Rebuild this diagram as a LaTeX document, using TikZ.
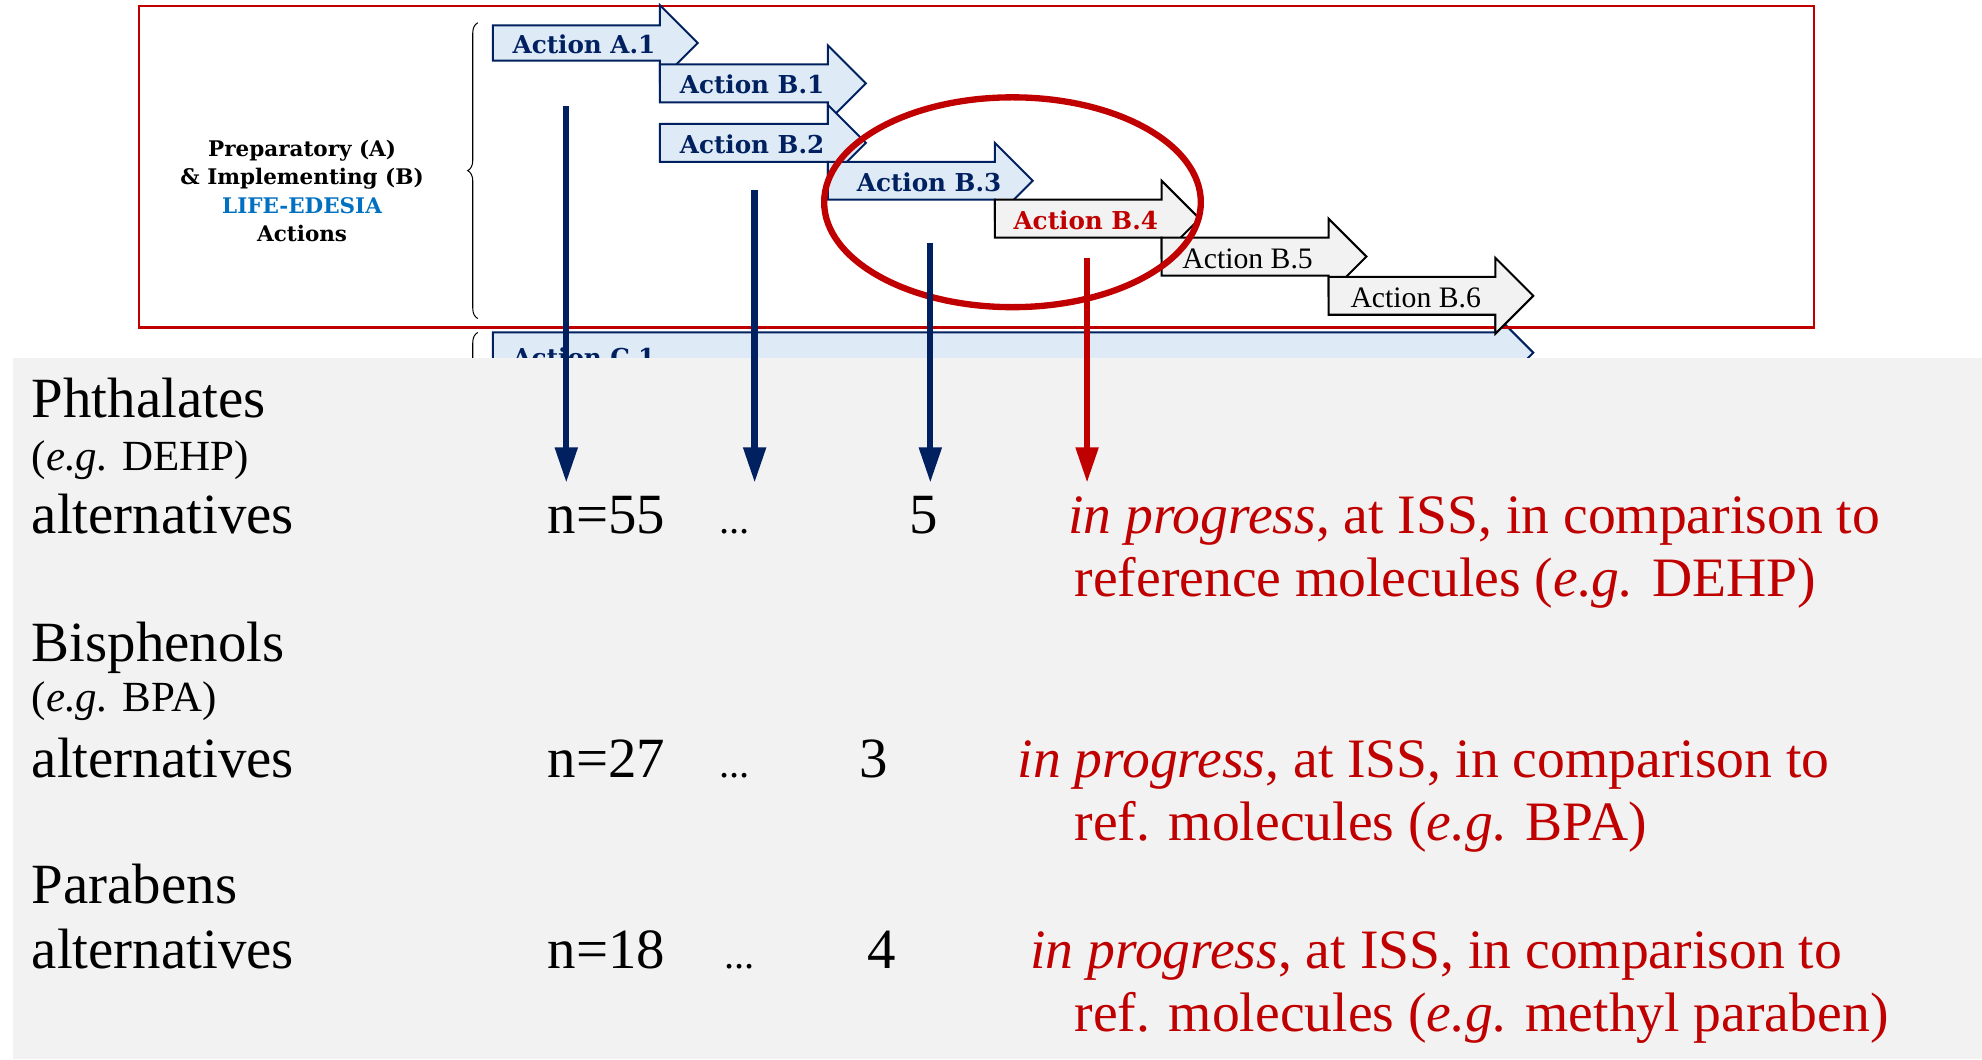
\documentclass[tikz,border=0pt]{standalone}
\usepackage{fontspec}
\setmainfont{Liberation Serif}
\newfontfamily\actfont{DejaVu Serif}
\usetikzlibrary{arrows.meta,decorations.pathreplacing}
\definecolor{navy}{HTML}{002060}
\definecolor{darkred}{HTML}{C00000}
\definecolor{lblue}{HTML}{DEEBF7}
\definecolor{lgray}{HTML}{F2F2F2}
\definecolor{edesia}{HTML}{0070C0}
% block arrow: style, x left, y centre, body length, body half height
\newcommand\blkarrow[5]{%
  \draw[#1] (#2,#3-#5) -- ++(#4,0) -- ++(0,#5-30) -- ++(30,30) -- ++(-30,30) -- ++(0,#5-30) -- ++(-#4,0) -- cycle;}
\tikzset{
  blockA/.style={fill=lblue, draw=navy, line width=1.6pt, line join=miter},
  blockB/.style={fill=lgray, draw=black, line width=1.6pt, line join=miter},
  actlbl/.style={font=\actfont\bfseries\fontsize{19.5}{22}\selectfont, text=navy, inner sep=0pt},
  actplain/.style={font=\fontsize{23.5}{26}\selectfont, text=black, inner sep=0pt},
  lefttxt/.style={font=\actfont\bfseries\fontsize{17}{22.5}\selectfont, align=center, inner sep=0pt},
  bigtxt/.style={font=\fontsize{45}{50}\selectfont, anchor=base west, inner sep=0pt},
  subtxt/.style={font=\fontsize{34}{38}\selectfont, anchor=base west, inner sep=0pt},
  redtxt/.style={bigtxt, font=\fontsize{44}{50}\selectfont, text=darkred},
  dotstxt/.style={font=\fontsize{32}{34}\selectfont, anchor=base west, inner sep=0pt},
  brc/.style={decorate, decoration={brace, amplitude=8pt}, line width=0.8pt},
  vline/.style={line width=5pt, -{Triangle[width=17pt,length=28pt]}},
}
\begin{document}
\begin{tikzpicture}[x=1pt,y=-1pt]
\useasboundingbox (0,0) rectangle (1568,838);
% Action C.1 (mostly hidden)
\blkarrow{blockA}{390}{279}{793}{16}
\node[actlbl] (lC1) at (462,283) {Action C.1};
% red frame
\draw[darkred, line width=1.8pt] (110,5) rectangle (1435,259);
% braces
\draw[brc] (378,252) -- (378,18);
\draw[brc] (378,520) -- (378,263);
% block arrows
\blkarrow{blockA}{390}{34}{132}{14}
\node[actlbl] (lA1) at (462,35) {Action A.1};
\blkarrow{blockA}{522}{66}{133}{15}
\node[actlbl] (lB1) at (595,67) {Action B.1};
\blkarrow{blockA}{522}{113}{133}{15}
\node[actlbl] (lB2) at (595,114) {Action B.2};
\blkarrow{blockA}{655}{143}{132}{15}
\node[actlbl] (lB3) at (735,144) {Action B.3};
\blkarrow{blockB}{787}{173}{132}{15}
\node[actlbl, text=darkred] (lB4) at (859,174) {Action B.4};
\blkarrow{blockB}{919}{203}{132}{15}
\node[actplain] (lB5) at (987,205) {Action B.5};
\blkarrow{blockB}{1051}{234}{132}{15}
\node[actplain] (lB6) at (1120,236) {Action B.6};
% left label
\node[lefttxt] (prep) at (239,151) {Preparatory (A)\\ \& Implementing (B)\\ \textcolor{edesia}{LIFE-EDESIA}\\ Actions};
% ellipse
\draw[darkred, line width=5pt] (801,160) ellipse [x radius=149pt, y radius=83pt];
% grey panel
\fill[lgray] (10,283) rectangle (1568,838);
% texts
\node[bigtxt] (phth) at (25,330) {Phthalates};
\node[subtxt] (phthEg) at (25,372) {(\textit{e.g.} DEHP)};
\node[bigtxt] (alt1) at (25,422) {alternatives};
\node[bigtxt] (n55) at (433,422) {n=55};
\node[dotstxt] (dots1) at (569,422) {...};
\node[bigtxt] (five) at (719,422) {5};
\node[redtxt] (red1a) at (845,422) {\textit{in progress}, at ISS, in comparison to};
\node[redtxt] (red1b) at (850,472) {reference molecules (\textit{e.g.} DEHP)};
\node[bigtxt] (bisph) at (25,523) {Bisphenols};
\node[subtxt] (bpaEg) at (25,563) {(\textit{e.g.} BPA)};
\node[bigtxt] (alt2) at (25,615) {alternatives};
\node[bigtxt] (n27) at (433,615) {n=27};
\node[dotstxt] (dots2) at (569,615) {...};
\node[bigtxt] (three) at (680,615) {3};
\node[redtxt] (red2a) at (805,615) {\textit{in progress}, at ISS, in comparison to};
\node[redtxt] (red2b) at (850,665) {ref. molecules (\textit{e.g.} BPA)};
\node[bigtxt] (parab) at (25,715) {Parabens};
\node[bigtxt] (alt3) at (25,766) {alternatives};
\node[bigtxt] (n18) at (433,766) {n=18};
\node[dotstxt] (dots3) at (573,766) {...};
\node[bigtxt] (four) at (686,766) {4};
\node[redtxt] (red3a) at (815,766) {\textit{in progress}, at ISS, in comparison to};
\node[redtxt] (red3b) at (850,816) {ref. molecules (\textit{e.g.} methyl paraben)};
% vertical arrows
\coordinate (v1s) at (448,84);  \coordinate (v1e) at (448,382);
\coordinate (v2s) at (597,150); \coordinate (v2e) at (597,382);
\coordinate (v3s) at (736,192); \coordinate (v3e) at (736,382);
\coordinate (v4s) at (860,204); \coordinate (v4e) at (860,382);
\draw[vline, navy] (v1s) -- (v1e);
\draw[vline, navy] (v2s) -- (v2e);
\draw[vline, navy] (v3s) -- (v3e);
\draw[vline, darkred] (v4s) -- (v4e);
\end{tikzpicture}
\end{document}
